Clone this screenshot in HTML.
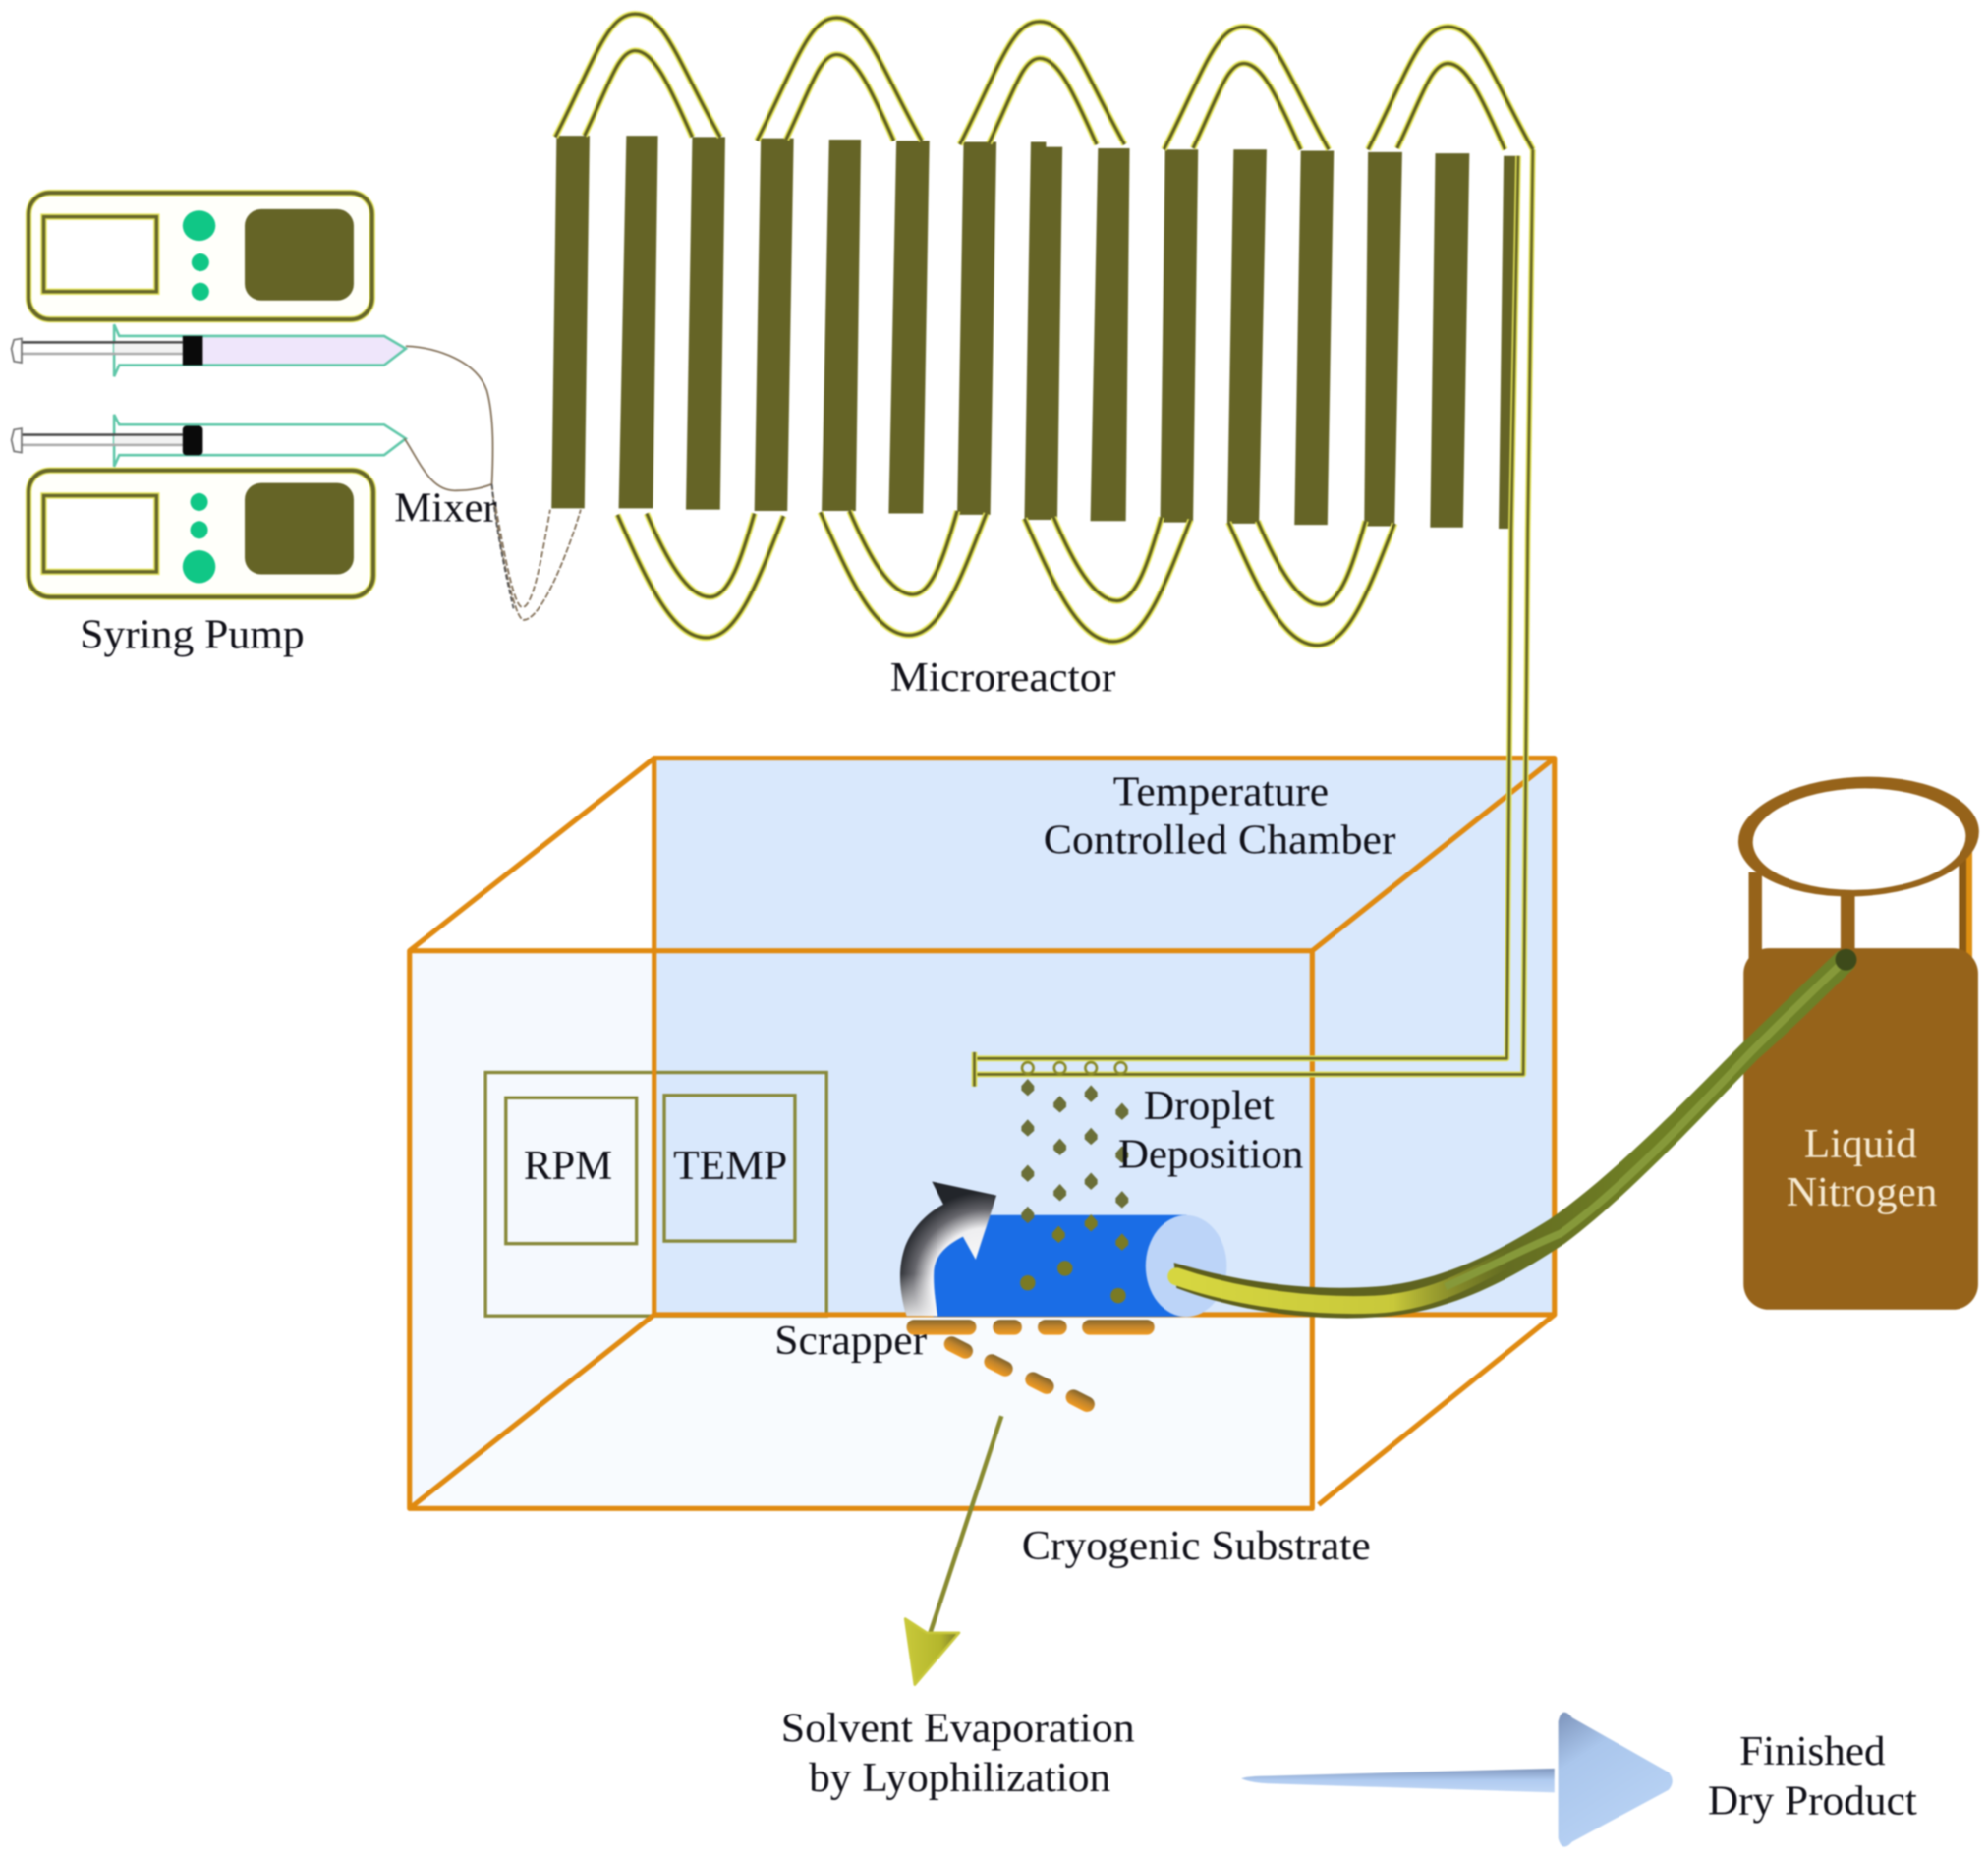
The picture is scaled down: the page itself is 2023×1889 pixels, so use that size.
<!DOCTYPE html>
<html lang="en">
<head>
<meta charset="utf-8">
<title>Microreactor Diagram</title>
<style>
html,body{margin:0;padding:0;background:#fff;width:2023px;height:1889px;overflow:hidden}
svg{display:block;filter:blur(0.8px)}
text{font-family:"Liberation Serif",serif;fill:#101018}
</style>
</head>
<body>
<svg xmlns="http://www.w3.org/2000/svg" width="2023" height="1889" viewBox="0 0 1568 1464.1">
<defs>
<radialGradient id="rot" gradientUnits="userSpaceOnUse" cx="778" cy="1012" r="72">
<stop offset="0" stop-color="#ffffff"/><stop offset=".6" stop-color="#eeeef0"/><stop offset=".8" stop-color="#66666c"/><stop offset="1" stop-color="#22252a"/>
</radialGradient>
<linearGradient id="rotb" gradientUnits="userSpaceOnUse" x1="0" y1="1005" x2="0" y2="1040">
<stop offset="0" stop-color="#fff" stop-opacity="0"/><stop offset="1" stop-color="#fff" stop-opacity=".9"/>
</linearGradient>
<linearGradient id="hoseLine" gradientUnits="userSpaceOnUse" x1="930" y1="0" x2="1456" y2="0">
<stop offset="0" stop-color="#d2d23e"/><stop offset=".3" stop-color="#c4c63a"/><stop offset=".55" stop-color="#8f9e30"/><stop offset="1" stop-color="#88a038"/>
</linearGradient>
<linearGradient id="hoseYellow" gradientUnits="userSpaceOnUse" x1="930" y1="0" x2="1190" y2="0">
<stop offset="0" stop-color="#d6d640"/><stop offset=".65" stop-color="#c8c83a"/><stop offset="1" stop-color="#a0a830" stop-opacity="0"/>
</linearGradient>
<linearGradient id="hoseFill" gradientUnits="userSpaceOnUse" x1="930" y1="0" x2="1456" y2="0">
<stop offset="0" stop-color="#5c5c1c"/><stop offset=".4" stop-color="#5f6420"/><stop offset=".7" stop-color="#6f7f24"/><stop offset="1" stop-color="#6c8028"/>
</linearGradient>
<linearGradient id="blueArrow" gradientUnits="userSpaceOnUse" x1="1232" y1="1351" x2="1290" y2="1440">
<stop offset="0" stop-color="#7f96bd"/><stop offset=".35" stop-color="#aac6ec"/><stop offset="1" stop-color="#b8d2f4"/>
</linearGradient>
<linearGradient id="blueShaft" gradientUnits="userSpaceOnUse" x1="0" y1="1395" x2="0" y2="1414">
<stop offset="0" stop-color="#7f96bd"/><stop offset=".5" stop-color="#b0cbf0"/><stop offset="1" stop-color="#c0d6f5"/>
</linearGradient>
<linearGradient id="orange" x1="0" y1="0" x2="0" y2="1">
<stop offset="0" stop-color="#80622a"/><stop offset=".45" stop-color="#c0842c"/><stop offset="1" stop-color="#f09a20"/>
</linearGradient>
<linearGradient id="yhead" gradientUnits="userSpaceOnUse" x1="714" y1="1300" x2="757" y2="1300">
<stop offset="0" stop-color="#c8c83a"/><stop offset=".65" stop-color="#b4b62c"/><stop offset="1" stop-color="#77782a"/>
</linearGradient>
<path id="drop" d="M0 -7L5 -1.5V2L0 6.5L-5 2V-1.5Z"/>
</defs>

<!-- Microreactor bars -->
<g fill="#656426">
<polygon points="439,107 465,107 461,401 435,401"/>
<polygon points="494,107 519,107 515,401 488,401"/>
<polygon points="546,108 572,108 568,402 541,402"/>
<polygon points="600,109 626,109 621,403 595,403"/>
<polygon points="654,110 679,110 675,403 648,403"/>
<polygon points="707,111 733,111 728,405 701,405"/>
<polygon points="760,112 786,112 781,406 755,406"/>
<polygon points="813,112 825,112 825,116 838,116 834,410 808,410"/>
<polygon points="866,117 891,117 888,411 860,411"/>
<polygon points="919,118 945,118 941,412 915,412"/>
<polygon points="973,118 999,118 993,413 968,413"/>
<polygon points="1026,119 1052,119 1047,414 1021,414"/>
<polygon points="1079,120 1106,120 1100,415 1076,415"/>
<polygon points="1132,121 1159,121 1154,416 1128,416"/>
<polygon points="1186,123 1198,123 1192,417 1182,417"/>
</g>

<!-- loops -->
<g fill="none" stroke="#e6e65a" stroke-width="5">
<path d="M438 108C469 47 479 11 501 11C524 11 534 47 568 108"/>
<path d="M461 107C481 65 488 40 501 40C515 40 527 65 546 108"/>
<g transform="translate(159,3)"><path d="M438 108C469 47 479 11 501 11C524 11 534 47 568 108"/><path d="M461 107C481 65 488 40 501 40C515 40 527 65 546 108"/></g>
<g transform="translate(319,6)"><path d="M438 108C469 47 479 11 501 11C524 11 534 47 568 108"/><path d="M461 107C481 65 488 40 501 40C515 40 527 65 546 108"/></g>
<g transform="translate(480,10)"><path d="M438 108C469 47 479 11 501 11C524 11 534 47 568 108"/><path d="M461 107C481 65 488 40 501 40C515 40 527 65 546 108"/></g>
<g transform="translate(641,10)"><path d="M438 108C469 47 479 11 501 11C524 11 534 47 568 108"/><path d="M461 107C481 65 488 40 501 40C515 40 527 65 546 108"/></g>
<g><path d="M487 406C510 458 530 503 557 503C582 503 598 458 618 407"/><path d="M510 405C525 440 542 471 560 471C575 471 585 440 595 405"/></g>
<g transform="translate(160,-2)"><path d="M487 406C510 458 530 503 557 503C582 503 598 458 618 407"/><path d="M510 405C525 440 542 471 560 471C575 471 585 440 595 405"/></g>
<g transform="translate(321,3)"><path d="M487 406C510 458 530 503 557 503C582 503 598 458 618 407"/><path d="M510 405C525 440 542 471 560 471C575 471 585 440 595 405"/></g>
<g transform="translate(482,6)"><path d="M487 406C510 458 530 503 557 503C582 503 598 458 618 407"/><path d="M510 405C525 440 542 471 560 471C575 471 585 440 595 405"/></g>
</g>
<g fill="none" stroke="#5e5e22" stroke-width="2.4">
<path d="M438 108C469 47 479 11 501 11C524 11 534 47 568 108"/>
<path d="M461 107C481 65 488 40 501 40C515 40 527 65 546 108"/>
<g transform="translate(159,3)"><path d="M438 108C469 47 479 11 501 11C524 11 534 47 568 108"/><path d="M461 107C481 65 488 40 501 40C515 40 527 65 546 108"/></g>
<g transform="translate(319,6)"><path d="M438 108C469 47 479 11 501 11C524 11 534 47 568 108"/><path d="M461 107C481 65 488 40 501 40C515 40 527 65 546 108"/></g>
<g transform="translate(480,10)"><path d="M438 108C469 47 479 11 501 11C524 11 534 47 568 108"/><path d="M461 107C481 65 488 40 501 40C515 40 527 65 546 108"/></g>
<g transform="translate(641,10)"><path d="M438 108C469 47 479 11 501 11C524 11 534 47 568 108"/><path d="M461 107C481 65 488 40 501 40C515 40 527 65 546 108"/></g>
<path d="M487 406C510 458 530 503 557 503C582 503 598 458 618 407"/><path d="M510 405C525 440 542 471 560 471C575 471 585 440 595 405"/>
<g transform="translate(160,-2)"><path d="M487 406C510 458 530 503 557 503C582 503 598 458 618 407"/><path d="M510 405C525 440 542 471 560 471C575 471 585 440 595 405"/></g>
<g transform="translate(321,3)"><path d="M487 406C510 458 530 503 557 503C582 503 598 458 618 407"/><path d="M510 405C525 440 542 471 560 471C575 471 585 440 595 405"/></g>
<g transform="translate(482,6)"><path d="M487 406C510 458 530 503 557 503C582 503 598 458 618 407"/><path d="M510 405C525 440 542 471 560 471C575 471 585 440 595 405"/></g>
</g>

<!-- Pumps -->
<g>
<rect x="22.5" y="152" width="271" height="100" rx="17" fill="#fffffa" stroke="#e2e25a" stroke-width="5"/>
<rect x="22.5" y="152" width="271" height="100" rx="17" fill="none" stroke="#66662a" stroke-width="3"/>
<rect x="34.5" y="171" width="89" height="59" fill="#fff" stroke="#e2e25a" stroke-width="5"/>
<rect x="34.5" y="171" width="89" height="59" fill="none" stroke="#66662a" stroke-width="2.6"/>
<ellipse cx="157" cy="178" rx="13" ry="12" fill="#10c786"/>
<circle cx="158" cy="207" r="7" fill="#10c786"/>
<circle cx="158" cy="230" r="7" fill="#10c786"/>
<rect x="193" y="165" width="86" height="72" rx="13" fill="#656426"/>

<rect x="22.5" y="371" width="272" height="100" rx="17" fill="#fffffa" stroke="#e2e25a" stroke-width="5"/>
<rect x="22.5" y="371" width="272" height="100" rx="17" fill="none" stroke="#66662a" stroke-width="3"/>
<rect x="34.5" y="391" width="89" height="60" fill="#fff" stroke="#e2e25a" stroke-width="5"/>
<rect x="34.5" y="391" width="89" height="60" fill="none" stroke="#66662a" stroke-width="2.6"/>
<circle cx="157" cy="396" r="7" fill="#10c786"/>
<circle cx="157" cy="418" r="7" fill="#10c786"/>
<ellipse cx="157" cy="447" rx="13" ry="13" fill="#10c786"/>
<rect x="193" y="381" width="86" height="72" rx="13" fill="#656426"/>
</g>

<!-- Syringes -->
<polygon points="160,266 303,266 320,275 303,287 160,287" fill="#efe6fb"/>
<g fill="none" stroke="#5fc7a9" stroke-width="2">
<path d="M90 256L94 265H303L320 275L303 288H94L90 297Z" />
<path d="M90 327L94 335H303L320 346L303 359H94L90 368Z"/>
</g>
<g>
<rect x="17" y="269" width="127" height="2" fill="#4a4a4a"/>
<rect x="17" y="278" width="127" height="2" fill="#aaaaaa"/>
<rect x="17" y="342" width="127" height="2" fill="#4a4a4a"/>
<rect x="17" y="350" width="127" height="2" fill="#aaaaaa"/>
<rect x="90" y="271" width="54" height="7" fill="#f2f2f2"/>
<rect x="90" y="344" width="54" height="6" fill="#f2f2f2"/>
<path d="M17 267L11 268L9 275L11 285L17 286Z" fill="#fff" stroke="#777" stroke-width="1.4"/>
<path d="M17 338L11 339L9 347L11 356L17 357Z" fill="#fff" stroke="#777" stroke-width="1.4"/>
<rect x="144" y="265" width="16" height="23" fill="#0a0a0a"/>
<rect x="144" y="336" width="16" height="23" rx="3" fill="#0a0a0a"/>
</g>

<!-- Tubing -->
<g fill="none" stroke="#85735c" stroke-width="1.4">
<path d="M320 273C345 274 376 285 384 308C390 330 389 360 388 382"/>
<path d="M319 346C332 366 340 388 360 387C372 387 380 385 388 382"/>
<path d="M388 382C392 420 405 489 413 489C428 489 450 430 458 402" stroke-dasharray="5 1.5"/>
<path d="M391 400C397 432 405 479 412 479C421 479 428 435 434 402" stroke-dasharray="5 2"/>
<path d="M388 382C390 410 398 450 405 480" stroke="#555" stroke-dasharray="4 2"/>
</g>

<!-- Chamber back / front fills -->
<rect x="516" y="598" width="710" height="439" fill="#d9e8fc"/>
<rect x="323" y="750" width="193" height="440" fill="#f5f9fe"/>
<polygon points="516,1037 1035,1037 1035,1190 323,1190" fill="#f8fbfe"/>

<!-- control panel -->
<g fill="none" stroke="#88893a" stroke-width="2.6">
<rect x="383" y="846" width="269" height="192"/>
<rect x="399" y="866" width="103" height="115"/>
<rect x="524" y="864" width="103" height="115"/>
</g>

<!-- chamber frame -->
<g fill="none" stroke="#e08a10" stroke-width="4" stroke-linejoin="round">
<rect x="516" y="598" width="710" height="439"/>
<rect x="323" y="750" width="712" height="440"/>
<path d="M323 750L516 598M1035 750L1226 598M323 1190L516 1037M1040 1187L1226 1037"/>
</g>

<!-- Feed tube -->
<g fill="none" stroke-linejoin="round">
<path d="M1197.5 123L1192 417L1188.5 835H768M1209 118L1205 418L1201.5 847.5H768" stroke="#dede55" stroke-width="4.5"/>
<path d="M1197.5 123L1192 417L1188.5 835H768M1209 118L1205 418L1201.5 847.5H768" stroke="#656426" stroke-width="2"/>
<path d="M768.5 830V857" stroke="#dede55" stroke-width="4.5"/>
<path d="M768.5 830V857" stroke="#656426" stroke-width="2"/>
<g stroke="#8a8a28" stroke-width="2"><circle cx="810.6" cy="842.5" r="4.5"/><circle cx="836" cy="842.5" r="4.5"/><circle cx="860.5" cy="842.5" r="4.5"/><circle cx="884" cy="842.5" r="4.5"/></g>
</g>

<!-- Cylinder -->
<path d="M770 958.6H936V1038.5H736V990Z" fill="#1a6de6"/>
<ellipse cx="935.6" cy="998.7" rx="32" ry="40" fill="#bcd4f8"/>

<!-- Droplets -->
<g fill="#6b6f38">
<use href="#drop" x="810.6" y="858"/><use href="#drop" x="836" y="871.3"/><use href="#drop" x="860.5" y="863"/><use href="#drop" x="885" y="877"/>
<use href="#drop" x="810.6" y="890"/><use href="#drop" x="836" y="905"/><use href="#drop" x="860.5" y="896.6"/><use href="#drop" x="885" y="911"/>
<use href="#drop" x="810.6" y="925.8"/><use href="#drop" x="836" y="941"/><use href="#drop" x="860.5" y="932"/><use href="#drop" x="885" y="946.5"/>
<use href="#drop" x="810.6" y="958.6"/>
</g>
<g fill="#7a7a24">
<use href="#drop" x="860.5" y="965"/><use href="#drop" x="835" y="974"/><use href="#drop" x="885" y="980"/><circle cx="840" cy="1000.5" r="6"/><circle cx="810.6" cy="1012" r="6"/><circle cx="882" cy="1022" r="6"/>
</g>

<!-- Rotation arrow -->
<path d="M735 932L786 943L769.5 993.5L759.5 975.5C747 982 737 990 736.5 1004C736 1016 738 1028 739.5 1038H715C709 1018 708 1000 714 983C720 968 731 957 744 950Z" fill="url(#rot)"/>
<path d="M735 932L786 943L769.5 993.5L759.5 975.5C747 982 737 990 736.5 1004C736 1016 738 1028 739.5 1038H715C709 1018 708 1000 714 983C720 968 731 957 744 950Z" fill="url(#rotb)"/>

<!-- Tank -->
<g>
<rect x="1379.3" y="688" width="10.4" height="68" fill="#96631a"/>
<rect x="1451.7" y="706" width="11.3" height="44" fill="#96631a"/>
<rect x="1548" y="668" width="7.6" height="88" fill="#de8f12"/>
<rect x="1545" y="668" width="6" height="88" fill="#8b5a14"/>
<ellipse cx="1466" cy="660" rx="95" ry="47" transform="rotate(-3 1466 660)" fill="#96631a"/>
<ellipse cx="1466.5" cy="662" rx="84" ry="40" transform="rotate(-2 1466 662)" fill="#fff"/>
<rect x="1375.2" y="748" width="185" height="285" rx="20" fill="#96631a"/>
</g>

<!-- Hose -->
<path d="M926 996C985 1014 1040 1018 1085 1015C1140 1011 1185 985 1222 962C1275 925 1335 862 1374 823C1395 803 1425 773 1450 750L1463 763C1437 788 1408 817 1386 836C1345 878 1285 943 1234 981C1195 1007 1145 1036 1085 1039C1040 1042 980 1036 928 1016Z" fill="url(#hoseFill)"/>
<path d="M928 1007C980 1025 1040 1031 1085 1029C1125 1027 1155 1012 1190 992" fill="none" stroke="url(#hoseYellow)" stroke-width="14" stroke-linecap="round"/>
<path d="M1140 1015C1170 1002 1200 986 1231 973C1282 936 1342 871 1382 829C1400 811 1430 781 1456 757" fill="none" stroke="#86993a" stroke-width="6"/>
<circle cx="1456" cy="757" r="8.5" fill="#3d4a1a"/>

<!-- Scrapings -->
<g fill="url(#orange)">
<rect x="715" y="1041" width="55" height="12" rx="6"/>
<rect x="783" y="1041" width="23" height="12" rx="6"/>
<rect x="818.5" y="1041" width="23" height="12" rx="6"/>
<rect x="853.5" y="1041" width="57" height="12" rx="6"/>
<rect x="744" y="1057" width="24" height="12" rx="6" transform="rotate(27 756 1063)"/>
<rect x="775.5" y="1071" width="24" height="12" rx="6" transform="rotate(27 787.6 1077)"/>
<rect x="808" y="1085" width="24" height="12" rx="6" transform="rotate(27 820 1091)"/>
<rect x="840" y="1099" width="24" height="12" rx="6" transform="rotate(27 852 1105)"/>
</g>

<!-- Down arrow -->
<path d="M790 1117L733 1290" stroke="#888a30" stroke-width="3.5" fill="none"/>
<polygon points="714,1277 731,1288 756.5,1288 721.5,1329" fill="url(#yhead)" stroke="#c8c83a" stroke-width="2" stroke-linejoin="round"/>

<!-- Blue arrow -->
<path d="M979 1403Q985 1401 1000 1401L1226 1395V1414L1000 1407Q985 1406 979 1403Z" fill="url(#blueShaft)"/>
<path d="M1229 1358Q1232 1345 1240 1355L1316 1398Q1322 1405 1316 1412L1240 1453Q1232 1462 1229 1450Z" fill="url(#blueArrow)"/>

<!-- Labels -->
<g font-size="33">
<text x="63" y="511" textLength="177" lengthAdjust="spacingAndGlyphs">Syring Pump</text>
<text x="311" y="411" textLength="81" lengthAdjust="spacingAndGlyphs">Mixer</text>
<text x="702" y="545" textLength="178" lengthAdjust="spacingAndGlyphs">Microreactor</text>
<text x="878" y="635" textLength="170" lengthAdjust="spacingAndGlyphs">Temperature</text>
<text x="823" y="673" textLength="278" lengthAdjust="spacingAndGlyphs">Controlled Chamber</text>
<text x="902" y="883" textLength="103" lengthAdjust="spacingAndGlyphs">Droplet</text>
<text x="882" y="921" textLength="146" lengthAdjust="spacingAndGlyphs">Deposition</text>
<text x="413" y="930" textLength="70" lengthAdjust="spacingAndGlyphs">RPM</text>
<text x="531" y="930" textLength="90" lengthAdjust="spacingAndGlyphs">TEMP</text>
<text x="611" y="1068" textLength="120" lengthAdjust="spacingAndGlyphs">Scrapper</text>
<text x="806" y="1230" textLength="275" lengthAdjust="spacingAndGlyphs">Cryogenic Substrate</text>
<text x="616" y="1374" textLength="279" lengthAdjust="spacingAndGlyphs">Solvent Evaporation</text>
<text x="638" y="1413" textLength="238" lengthAdjust="spacingAndGlyphs">by Lyophilization</text>
<text x="1372" y="1392" textLength="115" lengthAdjust="spacingAndGlyphs">Finished</text>
<text x="1347" y="1431" textLength="165" lengthAdjust="spacingAndGlyphs">Dry Product</text>
<text x="1423" y="913" textLength="89" lengthAdjust="spacingAndGlyphs" style="fill:#f6ead2">Liquid</text>
<text x="1409" y="951" textLength="119" lengthAdjust="spacingAndGlyphs" style="fill:#f6ead2">Nitrogen</text>
</g>
</svg>
</body>
</html>
